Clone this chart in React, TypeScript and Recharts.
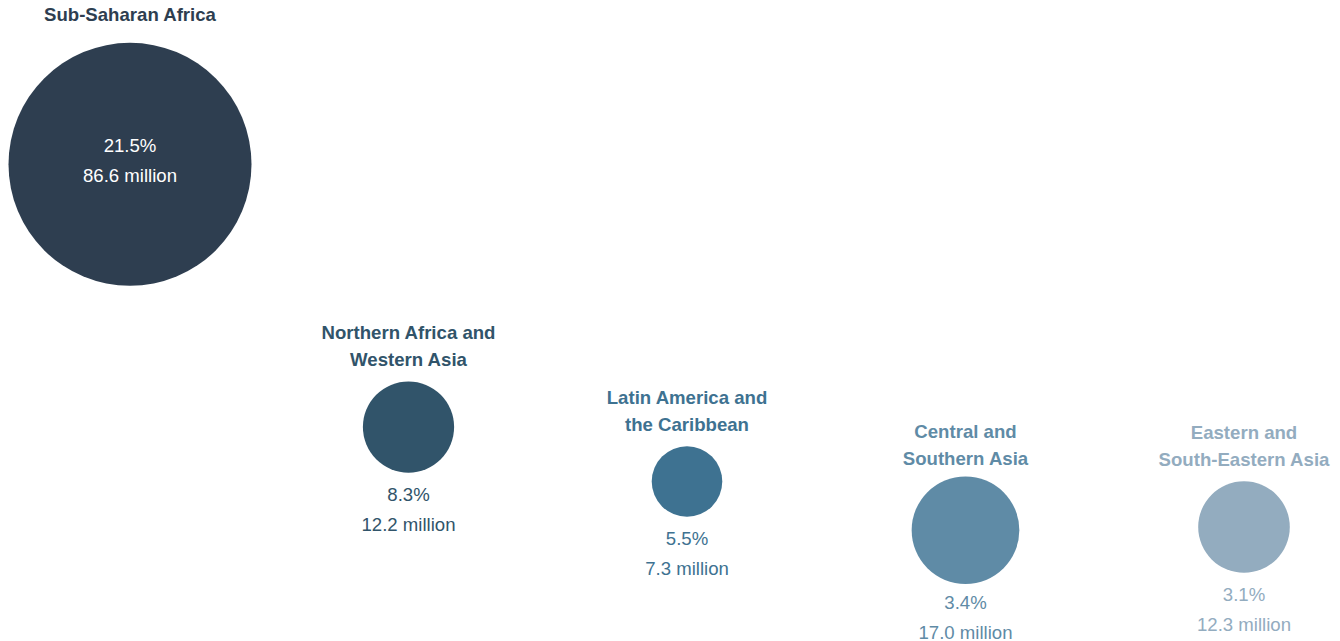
import React from 'react';
import { ScatterChart, Scatter, XAxis, YAxis, ZAxis } from 'recharts';

const REGIONS = [
  'Sub-Saharan Africa',
  'Northern Africa and\nWestern Asia',
  'Latin America and\nthe Caribbean',
  'Central and\nSouthern Asia',
  'Eastern and\nSouth-Eastern Asia',
];
const SHARE = [21.5, 8.3, 5.5, 3.4, 3.1];
const MILLIONS = [86.6, 12.2, 7.3, 17.0, 12.3];
// vertical placement of each bubble (0 = top, 100 = bottom)
const LEVEL = [24.7, 66.2, 74.8, 82.5, 82.0];

const COLORS = ['#2e3e50', '#31546a', '#3e7291', '#5f8ba6', '#93acbf'];
const FONT = '"Liberation Sans", Arial, Helvetica, sans-serif';
const FS = 18.6;

const data = REGIONS.map((name, i) => ({
  idx: i,
  name,
  share: SHARE[i],
  millions: MILLIONS[i],
  level: LEVEL[i],
}));

const Bubble = (props: any) => {
  const { cx, cy, payload } = props;
  const r = props.size ? Math.sqrt(props.size / Math.PI) : props.width / 2;
  const i = payload.idx;
  const color = COLORS[i];
  const lines: string[] = payload.name.split('\n');
  const inside = i === 0;
  const top = cy - r;
  const bottom = cy + r;
  // bigger outside bubbles sit a little closer to their labels
  const gap = r > 50 ? 18 : 22;
  const valueColor = inside ? '#ffffff' : color;
  const y1 = inside ? cy - 18.5 : bottom + gap;
  const y2 = inside ? cy + 11.5 : bottom + gap + 30;
  const titleGap = inside ? 28 : gap;

  return (
    <g>
      <circle cx={cx} cy={cy} r={r} fill={color} />
      {lines.map((line, k) => (
        <text
          key={k}
          x={cx}
          y={top - titleGap - (lines.length - 1 - k) * 27}
          textAnchor="middle"
          dominantBaseline="central"
          fontFamily={FONT}
          fontWeight="bold"
          fontSize={FS}
          fill={color}
        >
          {line}
        </text>
      ))}
      <text
        x={cx}
        y={y1}
        textAnchor="middle"
        dominantBaseline="central"
        fontFamily={FONT}
        fontSize={FS}
        fill={valueColor}
      >
        {payload.share.toFixed(1)}%
      </text>
      <text
        x={cx}
        y={y2}
        textAnchor="middle"
        dominantBaseline="central"
        fontFamily={FONT}
        fontSize={FS}
        fill={valueColor}
      >
        {payload.millions.toFixed(1)} million
      </text>
    </g>
  );
};

export default function App() {
  return (
    <div style={{ width: 1324, height: 633, background: '#ffffff' }}>
      <ScatterChart
        width={1324}
        height={633}
        margin={{ top: 0, right: 88, bottom: 0, left: 122 }}
      >
        <XAxis type="number" dataKey="idx" domain={[0, 4]} hide />
        <YAxis type="number" dataKey="level" domain={[0, 100]} reversed hide />
        <ZAxis
          type="number"
          dataKey="millions"
          domain={[0, 86.6]}
          range={[0, 46376]}
        />
        <Scatter data={data} shape={Bubble} isAnimationActive={false} />
      </ScatterChart>
    </div>
  );
}
